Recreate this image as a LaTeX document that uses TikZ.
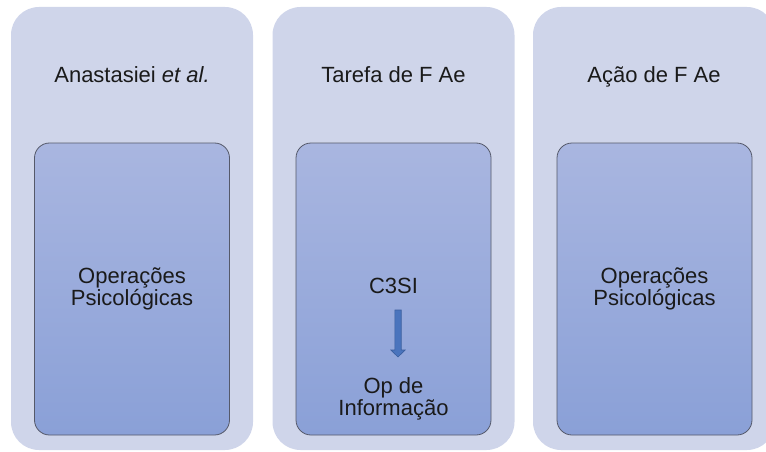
\documentclass[tikz,border=0pt]{standalone}
\usepackage{fontspec}
\setmainfont{Liberation Sans}
\definecolor{panelfill}{HTML}{CFD5EA}
\definecolor{innertop}{HTML}{A9B6E0}
\definecolor{innerbot}{HTML}{8AA0D7}
\definecolor{innerline}{HTML}{55596A}
\definecolor{arrowfill}{HTML}{4A74BD}
\definecolor{arrowline}{HTML}{3A5E9E}
\definecolor{txt}{HTML}{1A1A1A}
\tikzset{
  panel/.style={draw=none, fill=panelfill, rounded corners=28pt, minimum width=242pt, minimum height=443pt, inner sep=0pt},
  innerbox/.style={draw=innerline, line width=0.8pt, top color=innertop, bottom color=innerbot, rounded corners=15pt, minimum width=195pt, minimum height=292pt, inner sep=0pt},
  ttl/.style={text=txt, font=\fontsize{22}{24}\selectfont, anchor=base, inner sep=0pt},
  body/.style={text=txt, font=\fontsize{22}{22}\selectfont, align=center, inner sep=0pt},
  blockarrow/.style={draw=arrowline, line width=0.6pt, fill=arrowfill}
}
\begin{document}
\begin{tikzpicture}[x=1pt,y=-1pt]
\useasboundingbox (0,0) rectangle (766,452);
\clip (0,0) rectangle (766,452);
% panels
\node[panel] (p1) at (132,228.5) {};
\node[panel] (p2) at (393.5,228.5) {};
\node[panel] (p3) at (654,228.5) {};
% titles
\node[ttl] (t1) at (132,83) {Anastasiei \textit{et al.}};
\node[ttl] (t2) at (393.5,83) {Tarefa de F Ae};
\node[ttl] (t3) at (654,83) {Ação de F Ae};
% inner boxes
\node[innerbox] (b1) at (132,289) {};
\node[innerbox] (b2) at (393.5,289) {};
\node[innerbox] (b3) at (654.5,289) {};
% texts
\node[body] (o1) at (132,289) {Operações\\Psicológicas};
\node[body] (o3) at (654.5,289) {Operações\\Psicológicas};
\node[ttl] (c3) at (393.5,293) {C3SI};
\node[body] (op) at (393.5,399) {Op de\\Informação};
% block arrow
\coordinate (a0) at (398,310);
\draw[blockarrow] ([xshift=-3.2pt]a0) -- ([xshift=3.2pt]a0) -- ++(0,40) -- ++(4,0) -- (398,357) -- (390.8,350) -- ++(4,0) -- cycle;
\end{tikzpicture}
\end{document}
